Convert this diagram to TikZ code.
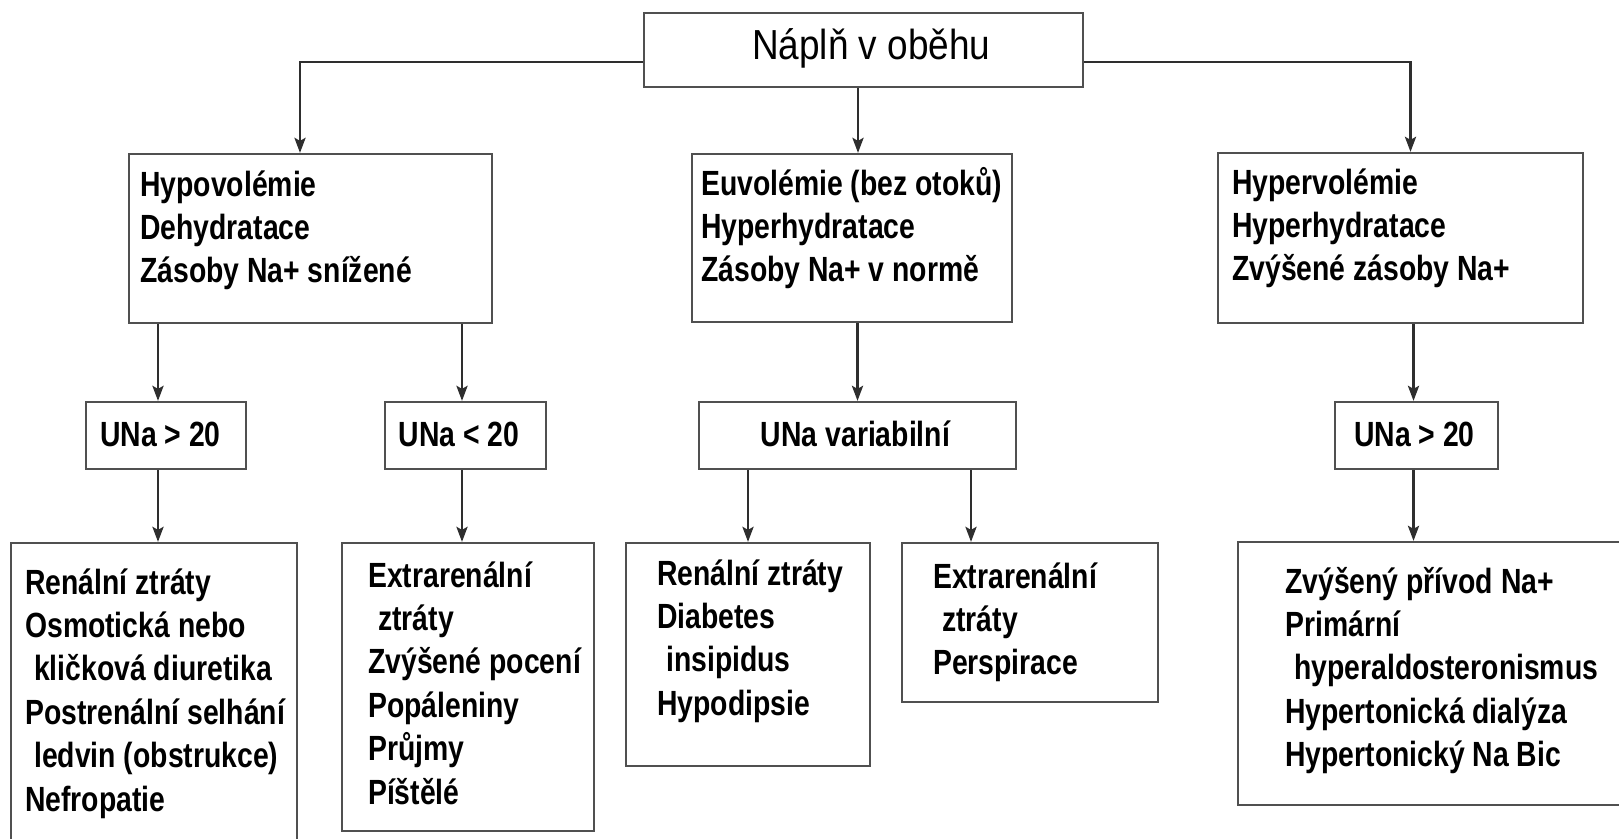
\documentclass[tikz,border=0pt]{standalone}
\usepackage{fontspec}
\setmainfont{Liberation Sans}
\newfontfamily\nb[FakeStretch=0.81]{Liberation Sans}
\newfontfamily\tf[FakeStretch=0.88]{Liberation Sans}
\usetikzlibrary{arrows.meta,calc}
\definecolor{boxc}{HTML}{505050}
\definecolor{linec}{HTML}{2E2E2E}
\tikzset{
  box/.style={draw=boxc, line width=2.2pt, rectangle, inner sep=0pt},
  conn/.style={draw=linec, line width=2.8pt},
  arr/.style={conn, -{Stealth[length=15pt,width=11pt,inset=3pt]}},
  lbl/.style={anchor=base west, inner sep=0pt, align=flush left, text width=420pt,
    font=\nb\bfseries\fontsize{35}{43.4}\selectfont},
  cl/.style={anchor=base, inner sep=0pt, font=\nb\bfseries\fontsize{35}{43.4}\selectfont},
  ttl/.style={anchor=base west, inner sep=0pt, font=\tf\fontsize{42}{50}\selectfont},
}
\begin{document}
\begin{tikzpicture}[x=1pt,y=-1pt]
\useasboundingbox (0,0) rectangle (1619,838);
\fill[white] (0,0) rectangle (1619,838);
\clip (0,0) rectangle (1619,838);

% boxes
\node[box, minimum width=439pt, minimum height=74pt] (T) at (863.5,50) {};
\node[box, minimum width=363pt, minimum height=169pt] (H1) at (310.5,238.5) {};
\node[box, minimum width=320pt, minimum height=168pt] (H2) at (852,238) {};
\node[box, minimum width=365pt, minimum height=170pt] (H3) at (1400.5,238) {};
\node[box, minimum width=160pt, minimum height=67pt] (U1) at (166,435.5) {};
\node[box, minimum width=161pt, minimum height=67pt] (U2) at (465.5,435.5) {};
\node[box, minimum width=317pt, minimum height=67pt] (U3) at (857.5,435.5) {};
\node[box, minimum width=163pt, minimum height=67pt] (U4) at (1416.5,435.5) {};
\node[box, minimum width=286pt, minimum height=337pt] (B1) at (154,711.5) {};
\node[box, minimum width=252pt, minimum height=288pt] (B2) at (468,687) {};
\node[box, minimum width=244pt, minimum height=223pt] (B3) at (748,654.5) {};
\node[box, minimum width=256pt, minimum height=159pt] (B4) at (1030,622.5) {};
\node[box, minimum width=422pt, minimum height=263pt] (B5) at (1449,673.5) {};

% texts
\node[ttl] (tT) at (752,59) {Náplň v oběhu};
\node[lbl] (tH1) at (140,196) {Hypovolémie\\Dehydratace\\Zásoby Na+ snížené};
\node[lbl] (tH2) at (701,195) {Euvolémie (bez otoků)\\Hyperhydratace\\Zásoby Na+ v normě};
\node[lbl] (tH3) at (1232,194) {Hypervolémie\\Hyperhydratace\\Zvýšené zásoby Na+};
\node[cl] (tU1) at (160.5,446) {UNa > 20};
\node[cl] (tU2) at (459,446) {UNa < 20};
\node[cl] (tU3) at (855.5,446) {UNa variabilní};
\node[cl] (tU4) at (1414.5,446) {UNa > 20};
\node[lbl] (tB1) at (25,594) {Renální ztráty\\Osmotická nebo\\\hspace*{9pt}kličková diuretika\\Postrenální selhání\\\hspace*{9pt}ledvin (obstrukce)\\Nefropatie};
\node[lbl] (tB2) at (368,587) {Extrarenální\\\hspace*{10pt}ztráty\\Zvýšené pocení\\Popáleniny\\Průjmy\\Píštělé};
\node[lbl] (tB3) at (657,585) {Renální ztráty\\Diabetes\\\hspace*{9pt}insipidus\\Hypodipsie};
\node[lbl] (tB4) at (933,588) {Extrarenální\\\hspace*{9pt}ztráty\\Perspirace};
\node[lbl] (tB5) at (1285,593) {Zvýšený přívod Na+\\Primární\\\hspace*{9pt}hyperaldosteronismus\\Hypertonická dialýza\\Hypertonický Na Bic};

% connector coordinates
\coordinate (tl) at ([yshift=-12pt]T.west);
\coordinate (tr) at ([yshift=-12pt]T.east);
\coordinate (tc) at ([xshift=-5.5pt]T.south);
\coordinate (a1) at ([xshift=-10.5pt]H1.north);
\coordinate (a3) at ([xshift=10pt]H3.north);
\coordinate (c1) at ([xshift=-8pt]U1.north);
\coordinate (c2) at ([xshift=-3.5pt]U2.north);
\coordinate (c3) at ([xshift=-3pt]U4.north);
\coordinate (c4) at ([xshift=-59pt]B4.north);

% connectors
\draw[arr] (tl) -| (a1);
\draw[arr] (tr) -| (a3);
\draw[arr] (tc) -- (tc |- H2.north);
\draw[arr] (c1 |- H1.south) -- (c1);
\draw[arr] (c2 |- H1.south) -- (c2);
\draw[arr] (U3.north |- H2.south) -- (U3.north);
\draw[arr] (c3 |- H3.south) -- (c3);
\draw[arr] (c1 |- U1.south) -- (c1 |- B1.north);
\draw[arr] (c2 |- U2.south) -- (c2 |- B2.north);
\draw[arr] (B3.north |- U3.south) -- (B3.north);
\draw[arr] (c4 |- U3.south) -- (c4);
\draw[arr] (c3 |- U4.south) -- (c3 |- B5.north);
\end{tikzpicture}
\end{document}
